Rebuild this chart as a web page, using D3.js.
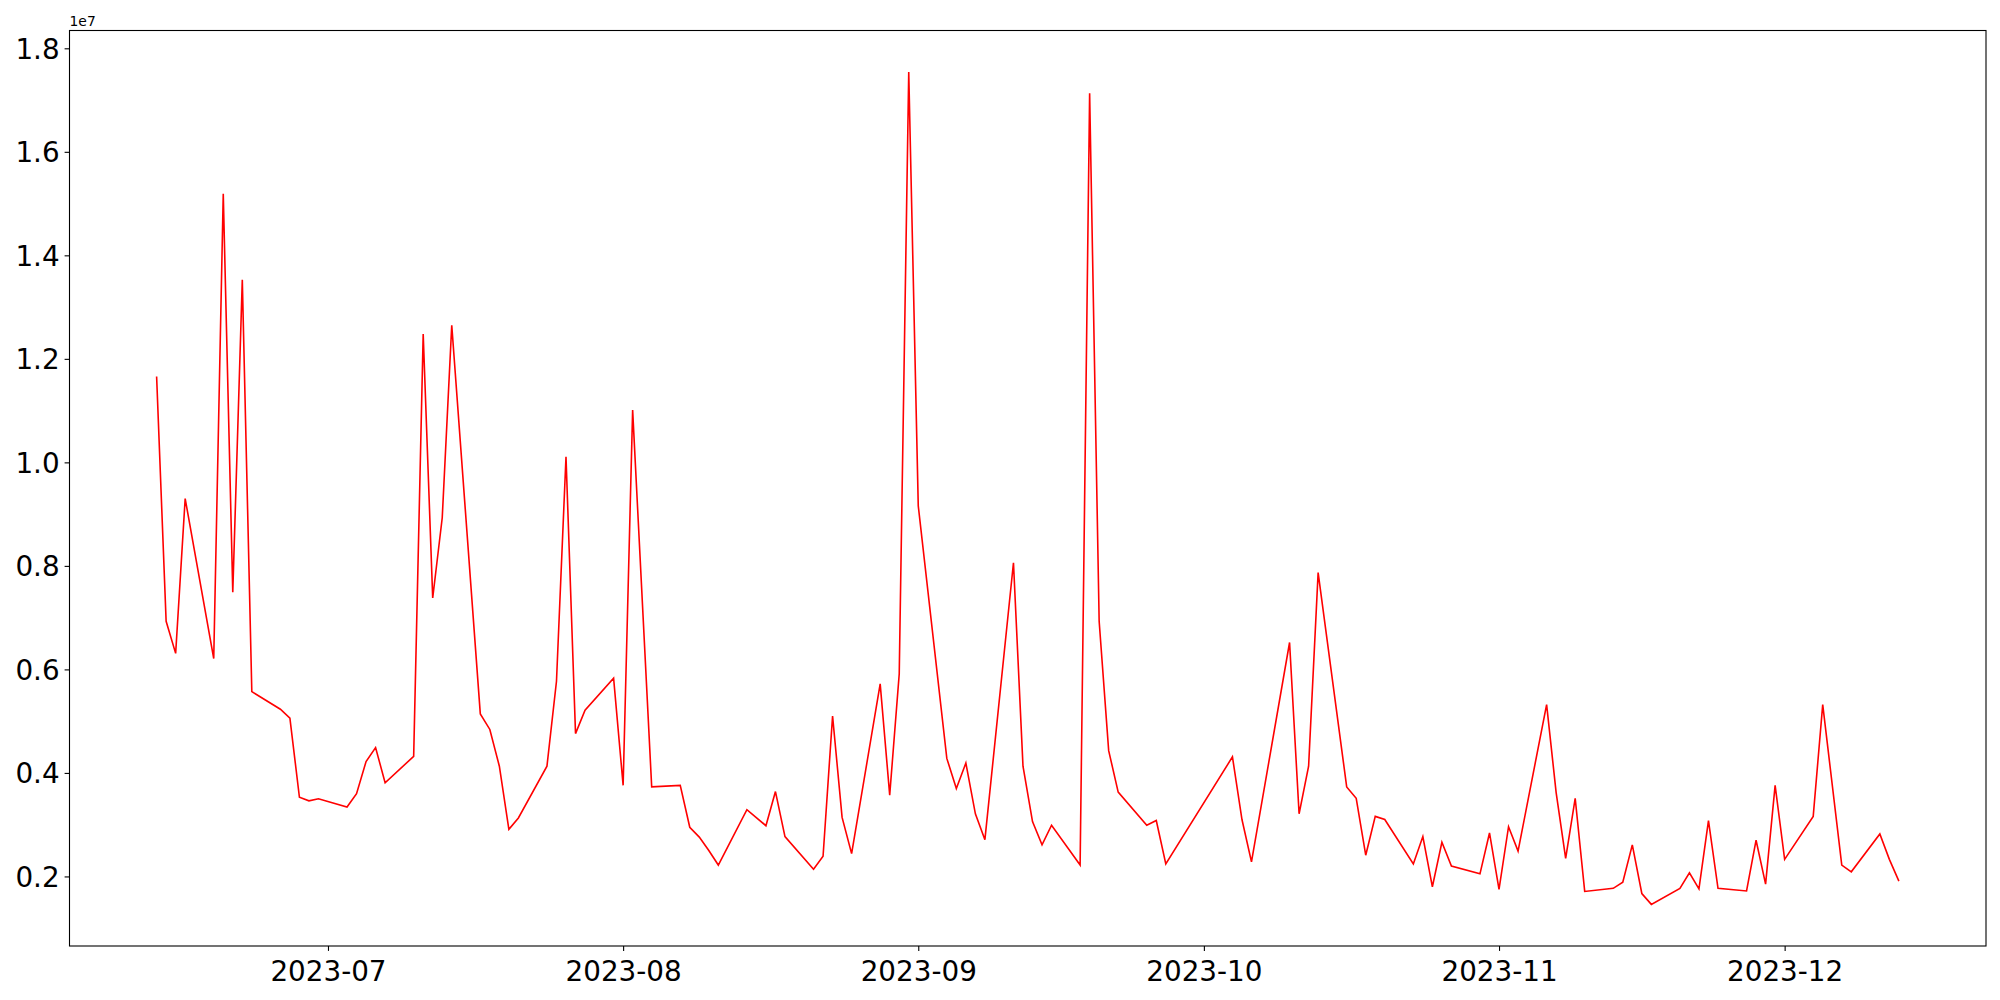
<!DOCTYPE html>
<html>
<head>
<meta charset="utf-8">
<script src="https://cdn.jsdelivr.net/npm/d3@7"></script>
<style>
  body { margin: 0; background: #fff; }
  svg text { font-family: "DejaVu Sans", sans-serif; fill: #000; }
</style>
</head>
<body>
<div id="chart"></div>
<script>
// Fechas de cotización (días hábiles)
const dates = [
  "2023-06-13","2023-06-14","2023-06-15","2023-06-16","2023-06-19","2023-06-20","2023-06-21","2023-06-22","2023-06-23",
  "2023-06-26","2023-06-27","2023-06-28","2023-06-29","2023-06-30",
  "2023-07-03","2023-07-04","2023-07-05","2023-07-06","2023-07-07",
  "2023-07-10","2023-07-11","2023-07-12","2023-07-13","2023-07-14",
  "2023-07-17","2023-07-18","2023-07-19","2023-07-20","2023-07-21",
  "2023-07-24","2023-07-25","2023-07-26","2023-07-27","2023-07-28",
  "2023-07-31","2023-08-01","2023-08-02","2023-08-04",
  "2023-08-07","2023-08-08","2023-08-09","2023-08-10","2023-08-11",
  "2023-08-14","2023-08-16","2023-08-17","2023-08-18",
  "2023-08-21","2023-08-22","2023-08-23","2023-08-24","2023-08-25",
  "2023-08-28","2023-08-29","2023-08-30","2023-08-31","2023-09-01",
  "2023-09-04","2023-09-05","2023-09-06","2023-09-07","2023-09-08",
  "2023-09-11","2023-09-12","2023-09-13","2023-09-14","2023-09-15",
  "2023-09-18","2023-09-19","2023-09-20","2023-09-21","2023-09-22",
  "2023-09-25","2023-09-26","2023-09-27",
  "2023-10-04","2023-10-05","2023-10-06",
  "2023-10-10","2023-10-11","2023-10-12","2023-10-13",
  "2023-10-16","2023-10-17","2023-10-18","2023-10-19","2023-10-20",
  "2023-10-23","2023-10-24","2023-10-25","2023-10-26","2023-10-27",
  "2023-10-30","2023-10-31","2023-11-01","2023-11-02","2023-11-03",
  "2023-11-06","2023-11-07","2023-11-08","2023-11-09","2023-11-10",
  "2023-11-13","2023-11-14","2023-11-15","2023-11-16","2023-11-17",
  "2023-11-20","2023-11-21","2023-11-22","2023-11-23","2023-11-24",
  "2023-11-27","2023-11-28","2023-11-29","2023-11-30","2023-12-01",
  "2023-12-04","2023-12-05","2023-12-07","2023-12-08",
  "2023-12-11","2023-12-12","2023-12-13"
];

// Valores (unidades de 1e7)
const values = [
  1.166, 0.693, 0.631, 0.930, 0.621, 1.519, 0.749, 1.353, 0.557,
  0.523, 0.506, 0.353, 0.346, 0.350,
  0.334, 0.360, 0.422, 0.449, 0.381,
  0.432, 1.248, 0.738, 0.893, 1.265,
  0.514, 0.484, 0.413, 0.291, 0.313,
  0.413, 0.577, 1.011, 0.476, 0.521,
  0.583, 0.376, 1.101, 0.373,
  0.376, 0.295, 0.276, 0.250, 0.222,
  0.329, 0.298, 0.364, 0.277,
  0.214, 0.239, 0.510, 0.314, 0.244,
  0.572, 0.357, 0.591, 1.754, 0.916,
  0.428, 0.370, 0.419, 0.321, 0.271,
  0.806, 0.413, 0.306, 0.261, 0.299,
  0.222, 1.713, 0.693, 0.443, 0.363,
  0.299, 0.308, 0.224,
  0.431, 0.310, 0.228,
  0.652, 0.321, 0.413, 0.787,
  0.373, 0.351, 0.241, 0.316, 0.310,
  0.224, 0.277, 0.180, 0.266, 0.220,
  0.205, 0.284, 0.175, 0.296, 0.249,
  0.532, 0.362, 0.235, 0.351, 0.171,
  0.177, 0.189, 0.261, 0.167, 0.146,
  0.177, 0.207, 0.176, 0.308, 0.177,
  0.172, 0.270, 0.185, 0.376, 0.233,
  0.316, 0.532, 0.222, 0.209,
  0.282, 0.233, 0.191
].map(v => v * 1e7);

const yTicks = [0.2e7, 0.4e7, 0.6e7, 0.8e7, 1.0e7, 1.2e7, 1.4e7, 1.6e7, 1.8e7];
const xTicks = ["2023-07-01","2023-08-01","2023-09-01","2023-10-01","2023-11-01","2023-12-01"];

// Configuración del SVG
const width = 2000;
const height = 1000;
const margin = { top: 30.5, right: 14, bottom: 54, left: 69.5 };

const parse = d3.timeParse("%Y-%m-%d");
const data = dates.map((d, i) => ({ date: parse(d), value: values[i] }));

const svg = d3.select("#chart")
    .append("svg")
    .attr("width", width)
    .attr("height", height);

// Escalas con margen del 5% como en matplotlib
const xExt = d3.extent(data, d => d.date.getTime());
const xPad = (xExt[1] - xExt[0]) * 0.05;
const x = d3.scaleTime()
    .domain([new Date(xExt[0] - xPad), new Date(xExt[1] + xPad)])
    .range([margin.left, width - margin.right]);

const yExt = d3.extent(values);
const yPad = (yExt[1] - yExt[0]) * 0.05;
const y = d3.scaleLinear()
    .domain([yExt[0] - yPad, yExt[1] + yPad])
    .range([height - margin.bottom, margin.top]);

// Ejes
const xAxis = svg.append("g")
    .attr("transform", `translate(0,${height - margin.bottom})`)
    .call(d3.axisBottom(x)
        .tickValues(xTicks.map(parse))
        .tickFormat(d3.timeFormat("%Y-%m"))
        .tickSizeOuter(0)
        .tickSize(4.9)
        .tickPadding(6));

const yAxis = svg.append("g")
    .attr("transform", `translate(${margin.left},0)`)
    .call(d3.axisLeft(y)
        .tickValues(yTicks)
        .tickFormat(d => (d / 1e7).toFixed(1))
        .tickSizeOuter(0)
        .tickSize(4.9)
        .tickPadding(5));

[xAxis, yAxis].forEach(g => {
    g.select(".domain").remove();
    g.selectAll(".tick line").attr("stroke", "#000").attr("stroke-width", 1.1);
    g.selectAll(".tick text")
        .attr("font-size", "27.8px")
        .attr("font-family", "DejaVu Sans");
});
xAxis.selectAll(".tick text").attr("dy", "0.85em");
yAxis.selectAll(".tick text").attr("dy", "0.36em");

// Texto de desplazamiento 1e7
svg.append("text")
    .attr("x", margin.left)
    .attr("y", margin.top - 5)
    .attr("font-size", "13.9px")
    .text("1e7");

// Línea de datos
const line = d3.line()
    .x(d => x(d.date))
    .y(d => y(d.value));

svg.append("path")
    .datum(data)
    .attr("d", line)
    .attr("fill", "none")
    .attr("stroke", "red")
    .attr("stroke-width", 1.6)
    .attr("stroke-linejoin", "miter");

// Marco de los ejes
svg.append("rect")
    .attr("x", margin.left)
    .attr("y", margin.top)
    .attr("width", width - margin.right - margin.left)
    .attr("height", height - margin.bottom - margin.top)
    .attr("fill", "none")
    .attr("stroke", "#000")
    .attr("stroke-width", 1.1);
</script>
</body>
</html>
